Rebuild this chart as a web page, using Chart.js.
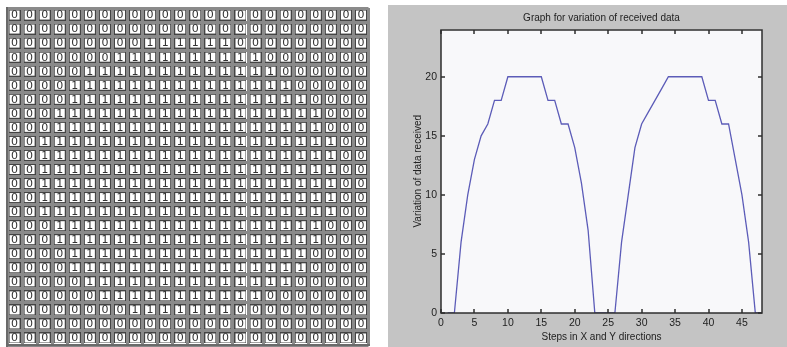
<!DOCTYPE html>
<html>
<head>
<meta charset="utf-8">
<script src="https://cdn.jsdelivr.net/npm/chart.js@4.4.1/dist/chart.umd.min.js"></script>
<style>
    html, body { margin: 0; padding: 0; background: #fff; overflow: hidden; }
    #tableWrap { position: absolute; left: 0; top: 0; width: 380px; height: 352px; }
    #plotWrap { position: absolute; left: 388px; top: 5px; width: 399px; height: 342px; background: #c4c4c4; }
</style>
</head>
<body>
<div id="tableWrap"><canvas id="tableChart"></canvas></div>
<div id="plotWrap"><canvas id="plotChart"></canvas></div>
<script>
// 24 x 24 binary matrix, one string per row
const gridRows = [
    '000000000000000000000000',
    '000000000000000000000000',
    '000000000111111000000000',
    '000000011111111110000000',
    '000001111111111111000000',
    '000011111111111111100000',
    '000011111111111111110000',
    '000111111111111111111000',
    '000111111111111111111000',
    '001111111111111111111100',
    '001111111111111111111100',
    '001111111111111111111100',
    '001111111111111111111100',
    '001111111111111111111100',
    '001111111111111111111100',
    '000111111111111111111000',
    '000111111111111111111000',
    '000011111111111111110000',
    '000011111111111111110000',
    '000001111111111111100000',
    '000000111111111110000000',
    '000000001111111000000000',
    '000000000000000000000000',
    '000000000000000000000000'
];

// values (steps 1..24 then 25..48)
const steps = [1, 2, 3, 4, 5, 6, 7, 8, 9, 10, 11, 12, 13, 14, 15, 16, 17, 18, 19, 20, 21, 22, 23, 24,
               25, 26, 27, 28, 29, 30, 31, 32, 33, 34, 35, 36, 37, 38, 39, 40, 41, 42, 43, 44, 45, 46, 47, 48];
const rowTotals = [0, 0, 6, 10, 13, 15, 16, 18, 18, 20, 20, 20, 20, 20, 20, 18, 18, 16, 16, 14, 11, 7, 0, 0];
const colTotals = [0, 0, 6, 10, 14, 16, 17, 18, 19, 20, 20, 20, 20, 20, 20, 18, 18, 16, 16, 13, 10, 6, 0, 0];
const xTicks = [0, 5, 10, 15, 20, 25, 30, 35, 40, 45];
const yTicks = [0, 5, 10, 15, 20];

Chart.defaults.animation = false;
Chart.defaults.events = [];
Chart.defaults.plugins.legend.display = false;
Chart.defaults.plugins.tooltip.enabled = false;

// ---- left: the matrix ----
const cellBox = document.createElement('canvas');
cellBox.width = 12;
cellBox.height = 11;
const bctx = cellBox.getContext('2d');
bctx.fillStyle = '#ffffff';
bctx.fillRect(0, 0, 12, 11);
bctx.strokeStyle = '#444444';
bctx.lineWidth = 1;
bctx.strokeRect(0.5, 0.5, 11, 10);

const cells = [];
gridRows.forEach((row, r) => {
    row.split('').forEach((v, c) => {
        cells.push({ x: c + 0.5, y: r + 0.5, v: v });
    });
});

const cellText = {
    id: 'cellText',
    afterDatasetsDraw(chart) {
        const ctx = chart.ctx;
        const meta = chart.getDatasetMeta(0);
        ctx.save();
        ctx.fillStyle = '#333333';
        ctx.font = '11px "DejaVu Sans", sans-serif';
        ctx.textAlign = 'center';
        ctx.textBaseline = 'middle';
        meta.data.forEach((pt, i) => {
            ctx.fillText(cells[i].v, pt.x, pt.y + 0.5);
        });
        ctx.restore();
    }
};

new Chart(document.getElementById('tableChart'), {
    type: 'scatter',
    data: {
        datasets: [{
            data: cells,
            pointStyle: cellBox,
            pointRadius: 6,
            pointHoverRadius: 6
        }]
    },
    options: {
        responsive: true,
        maintainAspectRatio: false,
        layout: { padding: { left: 6.5, top: 8, right: 11.5, bottom: 3.2 } },
        scales: {
            x: {
                type: 'linear', min: 0, max: 24,
                ticks: { display: false, stepSize: 1, maxTicksLimit: 100 },
                grid: { color: '#8a8a8a', lineWidth: 3, drawTicks: false },
                border: { display: true, color: '#6a6a6a', width: 2 }
            },
            y: {
                type: 'linear', min: 0, max: 24, reverse: true,
                ticks: { display: false, stepSize: 1, maxTicksLimit: 100 },
                grid: { color: '#8a8a8a', lineWidth: 3, drawTicks: false },
                border: { display: true, color: '#6a6a6a', width: 2 }
            }
        }
    },
    plugins: [cellText]
});

// ---- right: the graph ----
const plotBackground = {
    id: 'plotBackground',
    beforeDatasetsDraw(chart) {
        const { ctx, chartArea: a } = chart;
        ctx.save();
        ctx.fillStyle = '#f8f8fa';
        ctx.fillRect(a.left, a.top, a.right - a.left, a.bottom - a.top);
        ctx.restore();
    }
};

// box round the axes with inward ticks on all four sides
const plotFrame = {
    id: 'plotFrame',
    afterDraw(chart) {
        const ctx = chart.ctx;
        const a = chart.chartArea;
        const xs = chart.scales.x;
        const ys = chart.scales.y;
        const l = Math.round(a.left), r = Math.round(a.right);
        const t = Math.round(a.top), b = Math.round(a.bottom);
        ctx.save();
        ctx.strokeStyle = '#2e2e2e';
        ctx.lineWidth = 1.5;
        ctx.strokeRect(l, t, r - l, b - t);
        ctx.beginPath();
        xTicks.forEach(v => {
            const px = Math.round(xs.getPixelForValue(v));
            ctx.moveTo(px, b); ctx.lineTo(px, b - 4);
            ctx.moveTo(px, t); ctx.lineTo(px, t + 4);
        });
        yTicks.forEach(v => {
            const py = Math.round(ys.getPixelForValue(v));
            ctx.moveTo(l, py); ctx.lineTo(l + 4, py);
            ctx.moveTo(r, py); ctx.lineTo(r - 4, py);
        });
        ctx.stroke();
        ctx.restore();
    }
};

const received = rowTotals.concat(colTotals);
const points = steps.map((s, i) => ({ x: s, y: received[i] }));
const plotFont = '"Liberation Sans", Arial, sans-serif';

new Chart(document.getElementById('plotChart'), {
    type: 'line',
    data: {
        datasets: [{
            data: points,
            borderColor: '#5c5cb8',
            borderWidth: 1.3,
            pointRadius: 0,
            tension: 0,
            fill: false
        }]
    },
    options: {
        responsive: true,
        maintainAspectRatio: false,
        layout: { padding: { left: 0, top: 0, right: 25, bottom: 0 } },
        plugins: {
            title: {
                display: true,
                fullSize: false,
                text: 'Graph for variation of received data',
                color: '#222',
                font: { family: plotFont, size: 10, weight: 'normal' },
                padding: { top: 7, bottom: 5.5 }
            }
        },
        scales: {
            x: {
                type: 'linear', min: 0, max: 48,
                afterFit: scale => { scale.height = 34; },
                ticks: { stepSize: 5, includeBounds: false, maxRotation: 0, padding: 4, color: '#222',
                         font: { family: plotFont, size: 10.5 } },
                grid: { display: false, drawTicks: false },
                border: { display: false },
                title: {
                    display: true, text: 'Steps in X and Y directions', color: '#222',
                    font: { family: plotFont, size: 10 }, padding: { top: 0, bottom: 4 }
                }
            },
            y: {
                type: 'linear', min: 0, max: 24,
                afterFit: scale => { scale.width = 53; },
                ticks: { stepSize: 5, includeBounds: false, padding: 4, color: '#222',
                         font: { family: plotFont, size: 10.5 } },
                grid: { display: false, drawTicks: false },
                border: { display: false },
                title: {
                    display: true, text: 'Variation of data received', color: '#222',
                    font: { family: plotFont, size: 10 }, padding: { top: 24, bottom: 0 }
                }
            }
        }
    },
    plugins: [plotBackground, plotFrame]
});
</script>
</body>
</html>
